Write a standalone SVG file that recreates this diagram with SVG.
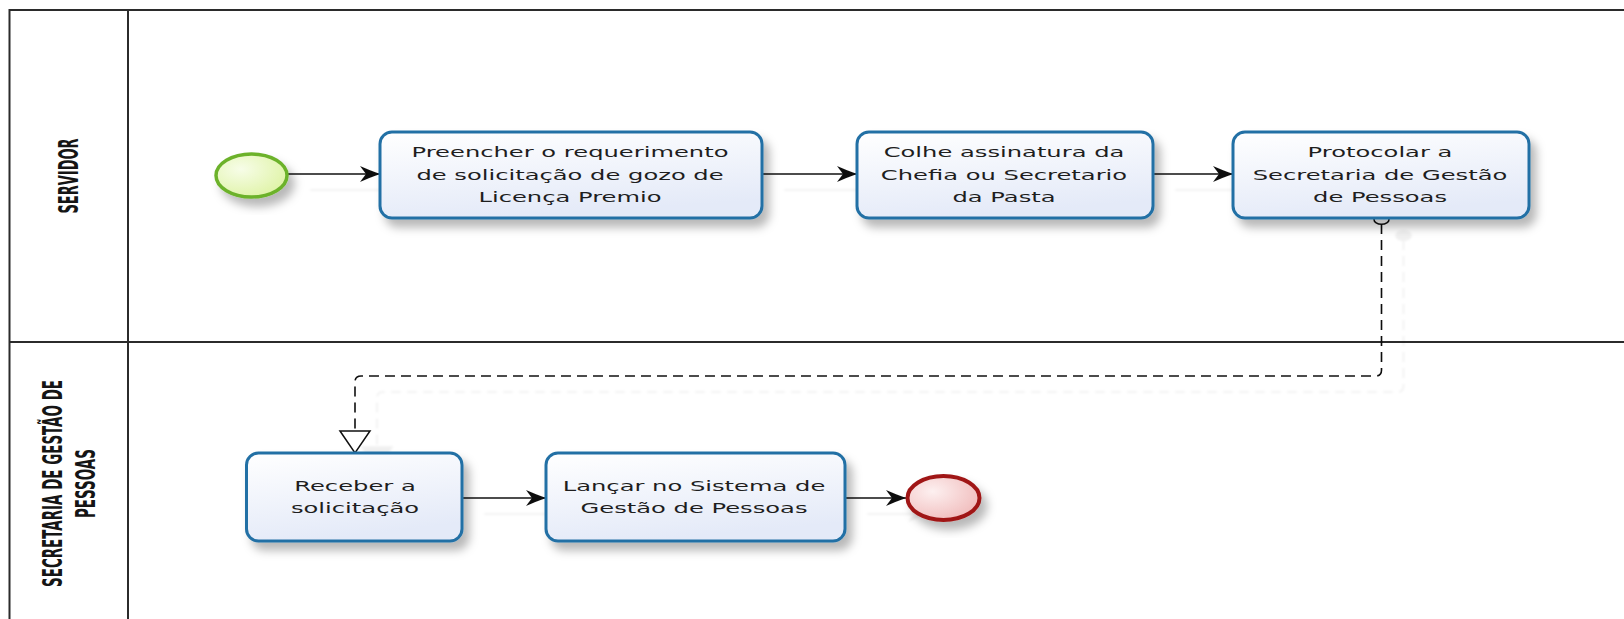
<svg xmlns="http://www.w3.org/2000/svg" width="1624" height="619" viewBox="0 0 1624 619">
<defs>
<style>
.lane{fill:none;stroke:#2b2b2b;stroke-width:2}
.task{stroke:#2470a5;stroke-width:3;fill:url(#taskFill)}
.lbl{font-family:"DejaVu Sans","Verdana",sans-serif;font-size:14.5px;fill:#1e1e1e;text-anchor:middle}
.lanelbl{font-family:"DejaVu Sans Condensed","DejaVu Sans",sans-serif;font-weight:bold;font-size:27px;fill:#151515}
.flow{fill:none;stroke:#111;stroke-width:1.6}
.msg{fill:none;stroke:#111;stroke-width:1.6;stroke-dasharray:10 6}
</style>
<linearGradient id="taskFill" x1="0" y1="0" x2="0.3" y2="1">
<stop offset="0" stop-color="#ffffff"/>
<stop offset="1" stop-color="#e4eaf8"/>
</linearGradient>
<radialGradient id="startFill" cx="0.35" cy="0.35" r="0.8">
<stop offset="0" stop-color="#f7fde8"/>
<stop offset="1" stop-color="#dcf29e"/>
</radialGradient>
<radialGradient id="endFill" cx="0.35" cy="0.35" r="0.8">
<stop offset="0" stop-color="#fdf0f0"/>
<stop offset="1" stop-color="#efb6b6"/>
</radialGradient>
<filter id="shadow" x="-20%" y="-20%" width="150%" height="160%">
<feDropShadow dx="6" dy="8" stdDeviation="5" flood-color="#000" flood-opacity="0.28"/>
</filter>
<filter id="lineShadow" x="-10%" y="-10%" width="130%" height="140%">
<feDropShadow dx="22" dy="16" stdDeviation="0.8" flood-color="#000" flood-opacity="0.06"/>
</filter>
<marker id="arrow" markerUnits="userSpaceOnUse" markerWidth="22" markerHeight="18" refX="20" refY="9" orient="auto">
<path d="M0,1 Q10,5.5 20,9 Q10,12.5 0,17 L6,9 Z" fill="#111"/>
</marker>
</defs>
<rect width="1624" height="619" fill="#fff"/>

<g id="pool">
<path class="lane" d="M1630,10 H9.5 V630"/>
<path class="lane" d="M128,10 V630"/>
<path class="lane" d="M9.5,342 H1630"/>
</g>

<g id="lane-servidor">
<text class="lanelbl" transform="translate(78,176) rotate(-90)" x="-37.5" y="0" textLength="75" lengthAdjust="spacingAndGlyphs">SERVIDOR</text>
</g>
<g id="lane-secretaria">
<text class="lanelbl" transform="translate(61.7,483.5) rotate(-90)" x="-103.5" y="0" textLength="207" lengthAdjust="spacingAndGlyphs">SECRETARIA DE GESTÃO DE</text>
<text class="lanelbl" transform="translate(95,483.5) rotate(-90)" x="-34.5" y="0" textLength="69" lengthAdjust="spacingAndGlyphs">PESSOAS</text>
</g>

<g id="connectors" filter="url(#lineShadow)">
<path class="flow" d="M288,174 H380" marker-end="url(#arrow)"/>
<path class="flow" d="M762,174 H857" marker-end="url(#arrow)"/>
<path class="flow" d="M1153,174 H1233" marker-end="url(#arrow)"/>
<path class="flow" d="M462,498 H546" marker-end="url(#arrow)"/>
<path class="flow" d="M845,498 H906" marker-end="url(#arrow)"/>
<path class="msg" d="M1381.5,224 V370 Q1381.5,376 1375.5,376 H361 Q355,376 355,382 V431"/>
<path d="M340,431 L355,453 L370,431 Z" fill="#fff" stroke="#111" stroke-width="1.5"/>
<ellipse cx="1381.5" cy="219.5" rx="7.5" ry="4.8" fill="#fff" stroke="#111" stroke-width="1.6"/>
</g>

<g id="start" filter="url(#shadow)">
<ellipse cx="251.5" cy="175.5" rx="35.5" ry="21.5" fill="url(#startFill)" stroke="#6cb22c" stroke-width="3.5"/>
</g>

<g id="task1">
<rect class="task" x="380" y="132" width="382" height="86" rx="12" filter="url(#shadow)"/>
<text class="lbl" transform="translate(570,0) scale(1.67,1)"><tspan x="0" y="157.5">Preencher o requerimento</tspan><tspan x="0" y="180">de solicitação de gozo de</tspan><tspan x="0" y="202.5">Licença Premio</tspan></text>
</g>

<g id="task2">
<rect class="task" x="857" y="132" width="296" height="86" rx="12" filter="url(#shadow)"/>
<text class="lbl" transform="translate(1004,0) scale(1.67,1)"><tspan x="0" y="157.5">Colhe assinatura da</tspan><tspan x="0" y="180">Chefia ou Secretario</tspan><tspan x="0" y="202.5">da Pasta</tspan></text>
</g>

<g id="task3">
<rect class="task" x="1233" y="132" width="296" height="86" rx="12" filter="url(#shadow)"/>
<text class="lbl" transform="translate(1380,0) scale(1.67,1)"><tspan x="0" y="157.5">Protocolar a</tspan><tspan x="0" y="180">Secretaria de Gestão</tspan><tspan x="0" y="202.5">de Pessoas</tspan></text>
</g>

<g id="task4">
<rect class="task" x="246.5" y="453" width="215.5" height="88" rx="12" filter="url(#shadow)"/>
<text class="lbl" transform="translate(355,0) scale(1.67,1)"><tspan x="0" y="491.5">Receber a</tspan><tspan x="0" y="513">solicitação</tspan></text>
</g>

<g id="task5">
<rect class="task" x="546" y="453" width="299" height="88" rx="12" filter="url(#shadow)"/>
<text class="lbl" transform="translate(694,0) scale(1.67,1)"><tspan x="0" y="491.5">Lançar no Sistema de</tspan><tspan x="0" y="513">Gestão de Pessoas</tspan></text>
</g>

<g id="end" filter="url(#shadow)">
<ellipse cx="943.5" cy="498" rx="36" ry="22" fill="url(#endFill)" stroke="#a01818" stroke-width="4"/>
</g>
</svg>
